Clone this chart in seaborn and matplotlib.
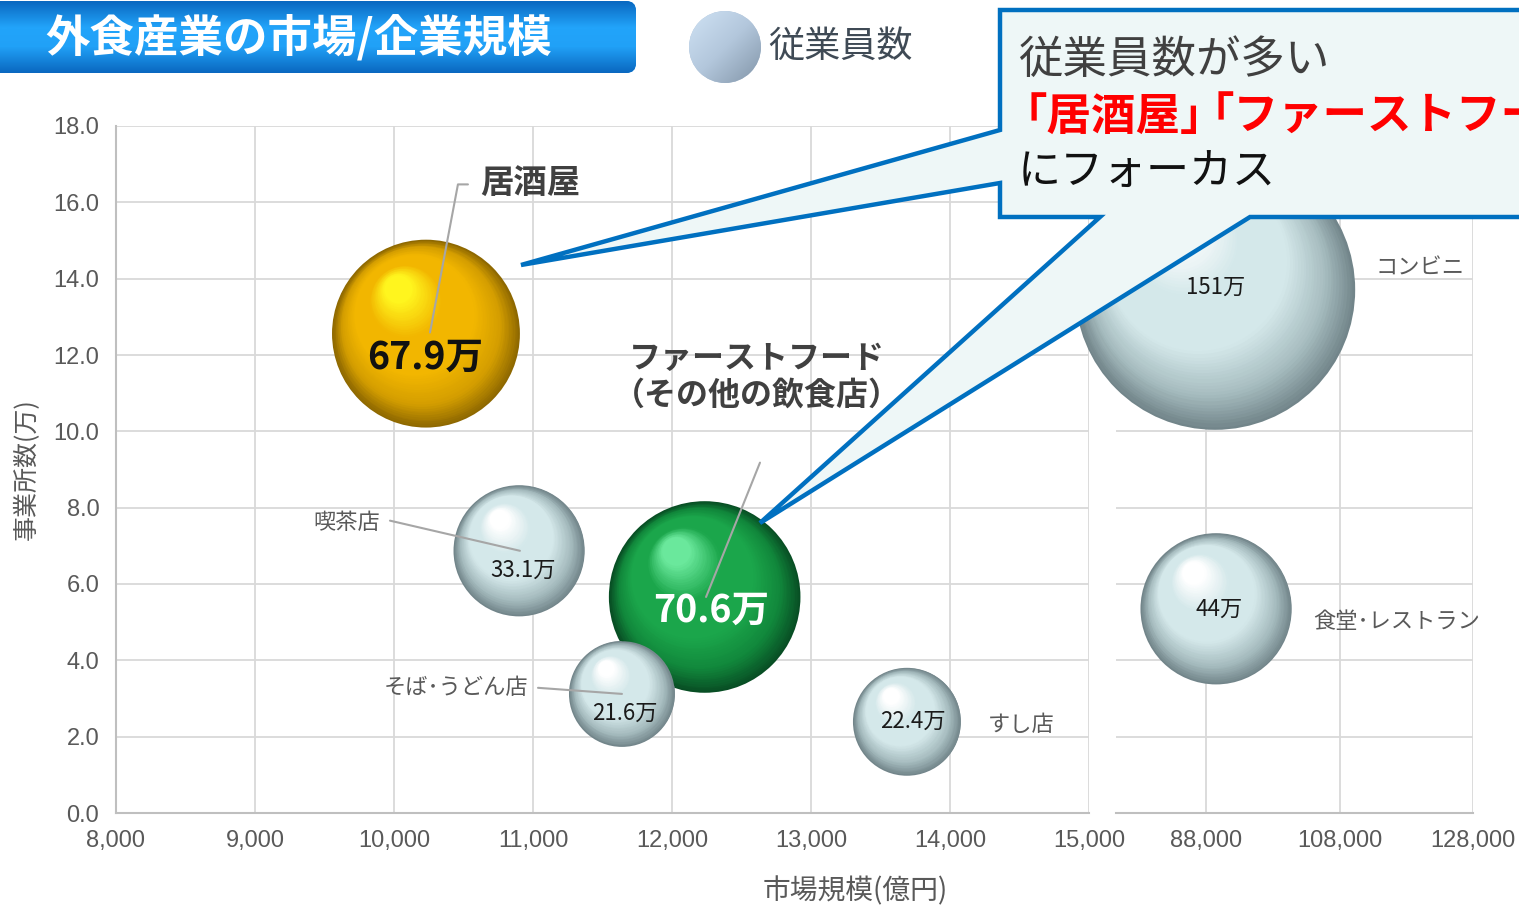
import numpy as np
import pandas as pd
import matplotlib
matplotlib.use("Agg")
import matplotlib.pyplot as plt
import seaborn as sns
from matplotlib.transforms import offset_copy
from matplotlib.colors import LinearSegmentedColormap
from matplotlib.patches import FancyBboxPatch, Circle, Polygon

# market size (億円), offices (万), employees (万)
left_names = ['居酒屋', 'ファーストフード', '喫茶店', 'そば･うどん店', 'すし店']
left_market = [10230, 12235, 10900, 11640, 13690]
left_offices = [12.56, 5.66, 6.87, 3.12, 2.39]
left_staff = [67.9, 70.6, 33.1, 21.6, 22.4]

right_names = ['コンビニ', '食堂･レストラン']
right_market = [89350, 89500]
right_offices = [13.71, 5.35]
right_staff = [151, 44]

left_xticks = [8000, 9000, 10000, 11000, 12000, 13000, 14000, 15000]
right_xticks = [88000, 108000, 128000]
yticks = [0, 2, 4, 6, 8, 10, 12, 14, 16, 18]

SIZE_K = 269.5  # points^2 per 万 employees

# (rim, shade, body, highlight)
YELLOW = ('#8E6800', '#D49E00', '#F2B600', '#FFF51E')
GREEN = ('#084E24', '#11873B', '#1BA64B', '#6AE89C')
GREY = ('#72858A', '#A6BCBF', '#D4E8EA', '#FFFFFF')
left_colors = [YELLOW, GREEN, GREY, GREY, GREY]
right_colors = [GREY, GREY]

sns.set_theme(style="white")
plt.rcParams['font.family'] = ['Noto Sans CJK JP', 'DejaVu Sans']

fig = plt.figure(figsize=(15.19, 9.07), dpi=100)
W, H = 1519, 907
axL = fig.add_axes([116 / W, 1 - 813 / H, (1089 - 116) / W, (813 - 126) / H])
axR = fig.add_axes([1116 / W, 1 - 813 / H, (1473 - 1116) / W, (813 - 126) / H])

all_staff = left_staff + right_staff
smin, smax = min(all_staff), max(all_staff)


def spheres(ax, names, xs, ys, staff, colors):
    df = pd.DataFrame({'name': names, 'x': xs, 'y': ys, 'staff': staff})
    pal = {n: c[0] for n, c in zip(names, colors)}
    sns.scatterplot(data=df, x='x', y='y', size='staff', hue='name', palette=pal,
                    sizes=(SIZE_K * smin, SIZE_K * smax), size_norm=(smin, smax),
                    legend=False, linewidth=0, ax=ax, clip_on=False, zorder=3)
    n = 60
    for x, y, v, (rim, shade, body, hl) in zip(xs, ys, staff, colors):
        s = SIZE_K * v
        r = np.sqrt(s) / 2
        cmap = LinearSegmentedColormap.from_list(
            '', [(0, rim), (0.18, shade), (0.42, body), (0.72, body), (1, hl)])
        for k in range(1, n):
            t = k / (n - 1)
            f = 1 - 0.85 * t
            tr = offset_copy(ax.transData, fig=fig, x=-0.3 * r * t, y=0.48 * r * t, units='points')
            ax.scatter([x], [y], s=s * f * f, color=cmap(t), transform=tr, linewidth=0,
                       clip_on=False, zorder=3)


spheres(axL, left_names, left_market, left_offices, left_staff, left_colors)
spheres(axR, right_names, right_market, right_offices, right_staff, right_colors)

grid_c = '#D9D9D9'
tick_c = '#595959'
for ax in (axL, axR):
    ax.set_ylim(0, 18)
    ax.set_yticks(yticks)
    ax.grid(True, color=grid_c, lw=1.3, zorder=0)
    ax.set_axisbelow(True)
    for sp in ('top', 'right'):
        ax.spines[sp].set_visible(False)
    ax.spines['bottom'].set_color('#BFBFBF')
    ax.spines['bottom'].set_linewidth(1.5)
    ax.set_xlabel('')
    ax.set_ylabel('')
    ax.patch.set_alpha(0)

axL.set_xlim(8000, 15000)
axL.set_xticks(left_xticks)
axL.set_xticklabels([f'{v:,}' for v in left_xticks])
axL.set_yticklabels([f'{v:.1f}' for v in yticks])
axL.spines['left'].set_color('#BFBFBF')
axL.spines['left'].set_linewidth(1.5)
axL.tick_params(axis='both', direction='out', length=6, width=1.2, color='#BFBFBF',
                labelsize=17, labelcolor=tick_c, pad=6)

axR.set_xlim(74500, 128000)
axR.set_xticks(right_xticks)
axR.set_xticklabels([f'{v:,}' for v in right_xticks])
axR.spines['left'].set_visible(False)
axR.tick_params(axis='y', length=0, labelleft=False)
axR.tick_params(axis='x', direction='out', length=0, labelsize=17, labelcolor=tick_c, pad=12)
for lab in axL.get_xticklabels() + axL.get_yticklabels() + axR.get_xticklabels():
    lab.set_family(['Liberation Sans', 'DejaVu Sans'])

fig.text(27 / W, 1 - 469 / H, '事業所数(万)', rotation=90, ha='center', va='center',
         fontsize=18, color=tick_c)
fig.text(855 / W, 1 - 891 / H, '市場規模(億円)', ha='center', va='center', fontsize=20, color=tick_c)

# bubble labels
lead = dict(color='#A6A6A6', lw=1.5, zorder=4, clip_on=False)
cat = dict(fontsize=16, color='#595959', va='center', zorder=5)
val = dict(fontsize=16, color='#1A1A1A', ha='center', va='center', zorder=5)

axL.text(10619, 16.47, '居酒屋', fontsize=24, fontweight='bold', color='#404040', va='center', zorder=5)
axL.plot([10532, 10460, 10259], [16.47, 16.47, 12.59], **lead)
axL.text(10223, 11.93, f'{left_staff[0]:g}万', fontsize=27, fontweight='bold', color='#111111',
         ha='center', va='center', zorder=5)

axL.text(12612, 11.41, 'ファーストフード\n（その他の飲食店）', fontsize=23, fontweight='bold',
         color='#404040', ha='center', va='center', linespacing=1.2, zorder=5)
axL.plot([12633, 12245], [9.18, 5.66], **lead)
axL.text(12281, 5.32, f'{left_staff[1]:g}万', fontsize=27, fontweight='bold', color='white',
         ha='center', va='center', zorder=5)

axL.text(9899, 7.60, left_names[2], ha='right', **cat)
axL.plot([9971, 10906], [7.66, 6.87], **lead)
axL.text(10928, 6.35, f'{left_staff[2]:g}万', **val)

axL.text(10964, 3.28, left_names[3], ha='right', **cat)
axL.plot([11036, 11640], [3.28, 3.12], **lead)
axL.text(11662, 2.62, f'{left_staff[3]:g}万', **val)

axL.text(13734, 2.41, f'{left_staff[4]:g}万', **val)
axL.text(14273, 2.31, left_names[4], ha='left', **cat)

axR.text(89498, 13.77, f'{right_staff[0]:g}万', **val)
axR.text(113318, 14.29, right_names[0], ha='left', **cat)
axR.text(89948, 5.35, f'{right_staff[1]:g}万', **val)
axR.text(104030, 5.03, right_names[1], ha='left', **cat)

# overlay in pixel coordinates: title, legend, callout
ov = fig.add_axes([0, 0, 1, 1], zorder=10)
ov.patch.set_alpha(0)
ov.axis('off')

title_box = FancyBboxPatch((-20, 1), 656, 72, boxstyle='round,pad=0,rounding_size=10',
                           facecolor='#1890E8', edgecolor='none')
ov.add_patch(title_box)
grad = np.concatenate([np.linspace(0, 1, 30), np.linspace(1, 0.95, 20), np.linspace(0.95, 0, 30)])
tcmap = LinearSegmentedColormap.from_list('', ['#0A68C0', '#22A4FA'])
im = ov.imshow(grad[:, None], extent=(-20, 636, 73, 1), cmap=tcmap, aspect='auto', zorder=1)
im.set_clip_path(title_box)
ov.text(45, 38, '外食産業の市場/企業規模', fontsize=32, fontweight='bold', color='white',
        ha='left', va='center', zorder=2)

leg = Circle((725, 47), 36, facecolor='#B0C4DA', edgecolor='none')
ov.add_patch(leg)
gx, gy = np.meshgrid(np.linspace(0, 1, 80), np.linspace(0, 1, 80))
lcmap = LinearSegmentedColormap.from_list('', ['#CFE2F4', '#B3C7DC', '#8295A8'])
im2 = ov.imshow((gx + gy) / 2, extent=(689, 761, 83, 11), cmap=lcmap, aspect='auto', zorder=1)
im2.set_clip_path(leg)
ov.text(768, 47, '従業員数', fontsize=26, color='#3F4A55', ha='left', va='center', zorder=2)

callout = Polygon([(1000, 10), (1540, 10), (1540, 217), (1250, 217), (760, 523), (1100, 217),
                   (1000, 217), (1000, 183), (521, 265), (1000, 130)], closed=True,
                  facecolor='#EEF7F7', edgecolor='#0070C0', lw=3.2, joinstyle='miter', zorder=3)
ov.add_patch(callout)
ov.text(1018, 60, '従業員数が多い', fontsize=32, color='#404040', ha='left', va='center', zorder=4)
ov.text(1018, 173, 'にフォーカス', fontsize=31, color='#111111', ha='left', va='center', zorder=4)

# red line in two pieces so the middle brackets sit tight like the original
renderer = fig.canvas.get_renderer()
red_size = 32
em = red_size * 100 / 72
x = 1022 - 0.44 * em
for piece, gap in [('「居酒屋」', -0.8), ('「ファーストフード', 0.0)]:
    t = ov.text(x, 117, piece, fontsize=red_size, fontweight='bold', color='#FF0000',
                ha='left', va='center', zorder=4)
    x += t.get_window_extent(renderer).width + gap * em

ov.set_xlim(0, W)
ov.set_ylim(H, 0)

fig.savefig('out.png', dpi=100)
